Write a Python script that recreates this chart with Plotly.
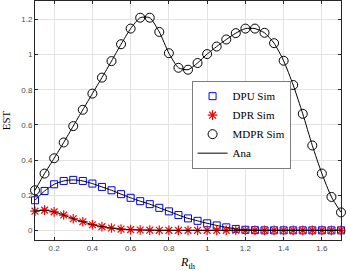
import plotly.graph_objects as go

r_th = [0.10, 0.15, 0.20, 0.25, 0.30, 0.35, 0.40, 0.45, 0.50, 0.55, 0.60,
        0.65, 0.70, 0.75, 0.80, 0.85, 0.90, 0.95, 1.00, 1.05, 1.10, 1.15,
        1.20, 1.25, 1.30, 1.35, 1.40, 1.45, 1.50, 1.55, 1.60, 1.65, 1.70]

dpu = [0.171, 0.224, 0.262, 0.281, 0.287, 0.281, 0.266, 0.247, 0.228, 0.206,
       0.185, 0.166, 0.149, 0.128, 0.108, 0.087, 0.068, 0.054, 0.040, 0.028,
       0.017, 0.008, 0.003, 0.001, 0, 0, 0, 0, 0, 0, 0, 0, 0]

dpr = [0.109, 0.115, 0.105, 0.087, 0.066, 0.049, 0.032, 0.021, 0.013, 0.007,
       0.004, 0.002, 0.001, 0, 0, 0, 0, 0, 0, 0, 0, 0, 0, 0, 0, 0, 0, 0, 0,
       0, 0, 0, 0]

mdpr = [0.228, 0.323, 0.410, 0.500, 0.593, 0.686, 0.778, 0.869, 0.963, 1.059,
        1.148, 1.210, 1.210, 1.129, 1.008, 0.925, 0.914, 0.952, 1.003, 1.046,
        1.086, 1.122, 1.148, 1.148, 1.124, 1.065, 0.965, 0.827, 0.663, 0.483,
        0.323, 0.190, 0.102]

x_ticks = [0.2, 0.4, 0.6, 0.8, 1.0, 1.2, 1.4, 1.6]
x_tick_labels = ["0.2", "0.4", "0.6", "0.8", "1", "1.2", "1.4", "1.6"]
y_ticks = [0, 0.2, 0.4, 0.6, 0.8, 1.0, 1.2]
y_tick_labels = ["0", "0.2", "0.4", "0.6", "0.8", "1", "1.2"]

serif = "Liberation Serif, DejaVu Serif, serif"
sans = "Liberation Sans, Arial, sans-serif"

fig = go.Figure()

fig.add_trace(go.Scatter(x=r_th, y=dpu, mode="markers", name="DPU Sim", cliponaxis=False,
                         marker=dict(symbol="square-open", size=7, color="#0000ff",
                                     line=dict(width=1, color="#0000ff"))))
fig.add_trace(go.Scatter(x=r_th, y=dpr, mode="markers", name="DPR Sim", cliponaxis=False,
                         marker=dict(symbol="asterisk-open", size=8, color="#ff0000",
                                     line=dict(width=1.2, color="#ff0000"))))
fig.add_trace(go.Scatter(x=r_th, y=mdpr, mode="markers", name="MDPR Sim", cliponaxis=False,
                         marker=dict(symbol="circle-open", size=9, color="#000000",
                                     line=dict(width=1, color="#000000"))))

for i, ys in enumerate([dpu, dpr, mdpr]):
    fig.add_trace(go.Scatter(x=r_th, y=ys, mode="lines", name="Ana",
                             showlegend=(i == 0),
                             line=dict(color="#000000", width=1, shape="spline",
                                       smoothing=0.6)))

axis_common = dict(
    showgrid=True, gridcolor="#e3e3e3", gridwidth=1,
    showline=True, linecolor="#262626", linewidth=1, mirror="ticks",
    ticks="inside", ticklen=3, tickcolor="#262626",
    tickfont=dict(family=sans, size=8, color="#4d4d4d"),
    zeroline=False, automargin=False,
)

fig.update_layout(
    width=346, height=271,
    margin=dict(l=35, r=5, t=1, b=31),
    paper_bgcolor="white", plot_bgcolor="white",
    xaxis=dict(range=[0.1, 1.7], tickvals=x_ticks, ticktext=x_tick_labels,
               title=dict(text="<i>R</i><sub>th</sub>",
                          font=dict(family=serif, size=12, color="#000000")),
               **axis_common),
    yaxis=dict(range=[-0.055, 1.305], tickvals=y_ticks, ticktext=y_tick_labels,
               title=dict(text="EST",
                          font=dict(family=serif, size=11, color="#000000")),
               **axis_common),
    legend=dict(x=0.513, y=0.665, xanchor="left", yanchor="top",
                bgcolor="white", bordercolor="#262626", borderwidth=0.6,
                font=dict(family=serif, size=11, color="#000000"),
                tracegroupgap=0, itemwidth=30),
    showlegend=True,
)

fig.write_html("out.html", config={"displayModeBar": False, "staticPlot": True},
               post_script="document.body.style.margin='0';document.body.style.overflow='hidden';")
